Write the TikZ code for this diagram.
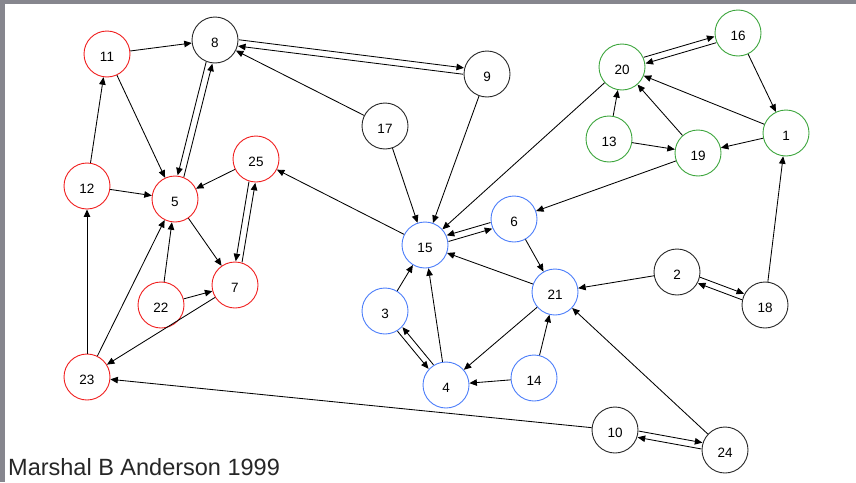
\documentclass[tikz,border=0pt]{standalone}
\usepackage{fontspec}
\setmainfont{Liberation Sans}
\usetikzlibrary{arrows.meta}
\usetikzlibrary{calc}

\definecolor{framegray}{RGB}{134,134,142}
\definecolor{vred}{RGB}{240,30,30}
\definecolor{vblue}{RGB}{75,125,250}
\definecolor{vgreen}{RGB}{60,165,60}

\begin{document}
\begin{tikzpicture}[
            x=1pt, y=-1pt,
            vertex/.style={circle, draw, line width=0.9pt, minimum size=46pt, inner sep=0pt,
                font=\fontsize{13.5}{14}\selectfont, text height=15pt, text depth=0pt},
            redv/.style={vertex, draw=vred},
            bluev/.style={vertex, draw=vblue},
            greenv/.style={vertex, draw=vgreen},
            blackv/.style={vertex, draw=black!85},
            edge/.style={-{Triangle[length=7.5pt,width=6.5pt]}, line width=0.85pt},
            pair/.style={edge, shorten <=23.6pt, shorten >=23.6pt},
        ]
            % --- Fondo y marco ---
            \useasboundingbox (0,0) rectangle (856,482);
            \fill[framegray] (0,0) rectangle (856,4);
            \fill[framegray] (0,0) rectangle (5,482);

            % --- Vertices por grupo ---
            \foreach \n/\x/\y in {11/107/54, 12/87/186, 5/175/199, 25/256/159, 7/235/285, 22/161/305, 23/87/377} {
                \node[redv] (v\n) at (\x,\y) {\n};
            }
            \foreach \n/\x/\y in {8/215/40, 9/487/74, 17/385/126, 2/677/272, 18/765/305, 10/615/430, 24/725/450} {
                \node[blackv] (v\n) at (\x,\y) {\n};
            }
            \foreach \n/\x/\y in {20/622/67, 16/738/33, 13/609/139, 19/698/153, 1/786/133} {
                \node[greenv] (v\n) at (\x,\y) {\n};
            }
            \foreach \n/\x/\y in {15/425/245, 6/514/219, 3/385/311, 4/446/385, 21/555/292, 14/534/378} {
                \node[bluev] (v\n) at (\x,\y) {\n};
            }

            % --- Aristas simples ---
            \foreach \a/\b in {11/8, 11/5, 12/11, 12/5, 17/8, 17/15, 15/25, 25/5, 5/7, 22/5, 22/7,
                               23/12, 23/5, 7/23, 10/23, 9/15, 20/15, 16/1, 1/20, 1/19, 13/20,
                               13/19, 19/20, 19/6, 6/21, 21/15, 3/15, 4/15, 21/4, 14/4, 14/21,
                               2/21, 18/1, 24/21} {
                \draw[edge] (v\a) -- (v\b);
            }

            % --- Aristas dobles (desplazadas a un lado) ---
            \foreach \a/\b/\s in {8/9/3.2pt, 9/8/3.2pt, 20/16/3.2pt, 16/20/3.2pt, 2/18/3.2pt, 18/2/3.2pt,
                                  10/24/3.2pt, 24/10/3.2pt, 15/6/-3.2pt, 6/15/-3.2pt, 8/5/-3.2pt,
                                  5/8/-3.2pt, 25/7/-3.2pt, 7/25/-3.2pt, 3/4/-3.2pt, 4/3/-3.2pt} {
                \draw[pair] ($(v\a)!\s!90:(v\b)$) -- ($(v\b)!\s!-90:(v\a)$);
            }

            % --- Firma ---
            \node[anchor=base west, inner sep=0pt, font=\fontsize{23.5}{27}\selectfont, text=black!85]
                (credit) at (8,475) {Marshal B Anderson 1999};
        \end{tikzpicture}
\end{document}
